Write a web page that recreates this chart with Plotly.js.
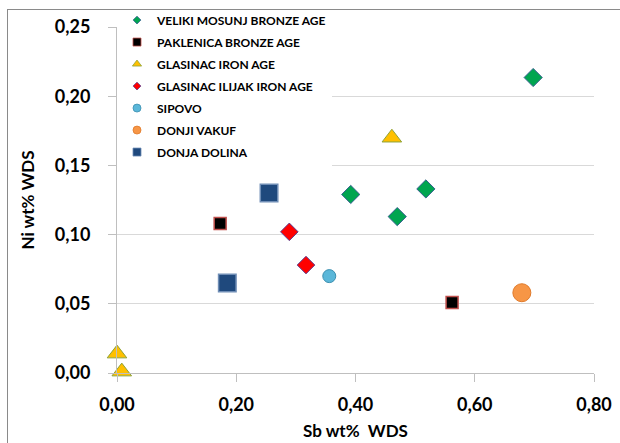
<!DOCTYPE html>
<html>
<head>
<meta charset="utf-8">
<script src="https://cdn.plot.ly/plotly-3.0.1.min.js"></script>
<style>
  html, body { margin: 0; padding: 0; background: #ffffff; }
  #wrap { position: relative; width: 620px; height: 443px; overflow: hidden; }
  #frame { position: absolute; left: 7px; top: 9px; width: 700px; height: 500px;
           border-left: 1px solid #8a8a8a; border-top: 1px solid #8a8a8a; pointer-events: none; }
  #chart { position: absolute; left: 0; top: 0; width: 620px; height: 443px; }
</style>
</head>
<body>
<div id="wrap">
  <div id="chart"></div>
  <div id="frame"></div>
</div>
<script>
// Series names
const seriesNames = [
  "VELIKI MOSUNJ BRONZE AGE",
  "PAKLENICA BRONZE AGE",
  "GLASINAC IRON AGE",
  "GLASINAC ILIJAK IRON AGE",
  "SIPOVO",
  "DONJI VAKUF",
  "DONJA DOLINA"
];

// Sb wt% (x) and Ni wt% (y) values per series
const velikiSb = [0.698, 0.392, 0.518, 0.470];
const velikiNi = [0.2135, 0.129, 0.133, 0.113];

const paklenicaSb = [0.173, 0.562];
const paklenicaNi = [0.108, 0.051];

const glasinacSb = [0.461, 0.000, 0.008];
const glasinacNi = [0.170, 0.014, 0.001];

const ilijakSb = [0.289, 0.317];
const ilijakNi = [0.102, 0.078];

const sipovoSb = [0.356];
const sipovoNi = [0.070];

const donjiSb = [0.679];
const donjiNi = [0.058];

const dolinaSb = [0.255, 0.185];
const dolinaNi = [0.130, 0.065];

// Tick values
const xTicks = [0, 0.2, 0.4, 0.6, 0.8];
const yTicks = [0, 0.05, 0.10, 0.15, 0.20, 0.25];

const xs = [velikiSb, paklenicaSb, glasinacSb, ilijakSb, sipovoSb, donjiSb, dolinaSb];
const ys = [velikiNi, paklenicaNi, glasinacNi, ilijakNi, sipovoNi, donjiNi, dolinaNi];

const styles = [
  {symbol: "diamond", color: "#00A550", line: "#35608f", lw: 1, size: 14, lsize: 6},
  {symbol: "square", color: "#000000", line: "#C0504D", lw: 1.5, size: 12, lsize: 8},
  {symbol: "triangle-up", color: "#FFC000", line: "#8FA33A", lw: 1, size: 17, lsize: 8},
  {symbol: "diamond", color: "#FF0000", line: "#5B3A8C", lw: 1, size: 13.5, lsize: 6},
  {symbol: "circle", color: "#5BB7D9", line: "#3C8FB0", lw: 1, size: 13, lsize: 8},
  {symbol: "circle", color: "#F79646", line: "#E07A2A", lw: 1, size: 18, lsize: 8},
  {symbol: "square", color: "#1F497D", line: "#6F8DB5", lw: 1.5, size: 17.5, lsize: 8}
];

const traces = [];
// legend entries (small markers, no data)
seriesNames.forEach((name, i) => {
  const s = styles[i];
  traces.push({
    type: "scatter", mode: "markers", name: name,
    x: [null], y: [null], legendgroup: "g" + i, showlegend: true,
    marker: {symbol: s.symbol, color: s.color, size: s.lsize, line: {color: s.line, width: 0.8}},
    hoverinfo: "skip"
  });
});
// data traces
seriesNames.forEach((name, i) => {
  const s = styles[i];
  traces.push({
    type: "scatter", mode: "markers", name: name,
    x: xs[i], y: ys[i], legendgroup: "g" + i, showlegend: false,
    cliponaxis: false,
    marker: {symbol: s.symbol, color: s.color, size: s.size, line: {color: s.line, width: s.lw}}
  });
});

const boldFont = (sz) => ({family: "Lato, 'Open Sans', sans-serif", size: sz, color: "#000000", weight: 700});

const layout = {
  width: 620, height: 443,
  margin: {l: 117, r: 26, t: 27, b: 69.5, pad: 0, autoexpand: false},
  paper_bgcolor: "rgba(0,0,0,0)",
  plot_bgcolor: "#ffffff",
  separators: ", ",
  showlegend: true,
  legend: {
    x: 0.0, y: 1.062, xanchor: "left", yanchor: "top",
    bgcolor: "#ffffff", borderwidth: 0,
    traceorder: "grouped", tracegroupgap: 3,
    font: boldFont(12)
  },
  xaxis: {
    range: [0, 0.8], tickvals: xTicks, tickformat: ".2f",
    showgrid: false, zeroline: false,
    showline: true, linecolor: "#BFBFBF", linewidth: 1,
    ticks: "outside", ticklen: 8, tickcolor: "#BFBFBF", tickwidth: 1,
    tickfont: boldFont(18),
    ticklabelstandoff: 7,
    title: {text: "Sb wt%\u00A0\u00A0WDS", font: boldFont(17), standoff: 11}
  },
  yaxis: {
    range: [0, 0.25], tickvals: yTicks, tickformat: ".2f",
    showgrid: true, gridcolor: "#D9D9D9", gridwidth: 1,
    zeroline: false,
    showline: true, linecolor: "#BFBFBF", linewidth: 1,
    ticks: "outside", ticklen: 8, tickcolor: "#BFBFBF", tickwidth: 1,
    tickfont: boldFont(18),
    ticklabelstandoff: 14,
    title: {text: "Ni wt% WDS", font: boldFont(17), standoff: 15}
  }
};

Plotly.newPlot("chart", traces, layout, {displayModeBar: false, staticPlot: true});
</script>
</body>
</html>
